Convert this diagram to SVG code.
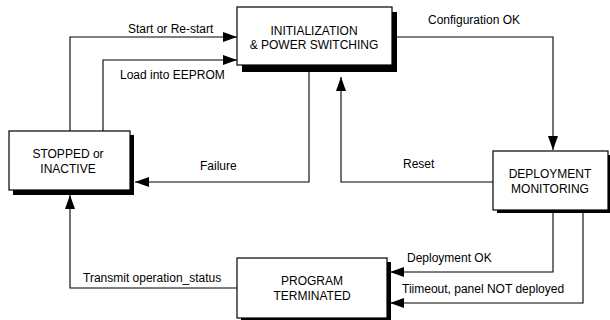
<svg xmlns="http://www.w3.org/2000/svg" width="610" height="320" viewBox="0 0 610 320">
<defs>
<marker id="arr" markerUnits="userSpaceOnUse" markerWidth="14" markerHeight="10" refX="14" refY="5" orient="auto">
<path d="M0,0 L14,5 L0,10 z" fill="#000"/>
</marker>
</defs>
<style>
text{font-family:"Liberation Sans",Arial,sans-serif;font-size:12px;fill:#000}
.box{fill:#fff;stroke:#000;stroke-width:1.2}
.sh{fill:#000}
.c{fill:none;stroke:#000;stroke-width:1.1}
.m{text-anchor:middle}
</style>
<rect width="610" height="320" fill="#fff"/>
<g id="connectors">
<polyline class="c" points="70,131 70,37 237,37" marker-end="url(#arr)"/>
<polyline class="c" points="103,131 103,60 237,60" marker-end="url(#arr)"/>
<polyline class="c" points="397,37 553,37 553,150" marker-end="url(#arr)"/>
<polyline class="c" points="309,72 309,182 135,182" marker-end="url(#arr)"/>
<polyline class="c" points="493,182 341,182 341,77" marker-end="url(#arr)"/>
<polyline class="c" points="553,213 553,272 390,272" marker-end="url(#arr)"/>
<polyline class="c" points="583,213 583,303 390,303" marker-end="url(#arr)"/>
<polyline class="c" points="237,288 70,288 70,195" marker-end="url(#arr)"/>
<text x="128" y="33">Start or Re-start</text>
<text x="120" y="79">Load into EEPROM</text>
<text x="428" y="24">Configuration OK</text>
<text x="200" y="170">Failure</text>
<text x="403" y="168">Reset</text>
<text x="407" y="262">Deployment OK</text>
<text x="402" y="293">Tiimeout, panel NOT deployed</text>
<text x="83" y="282">Transmit operation_status</text>
</g>
<g id="init">
<rect class="sh" x="242" y="12" width="155" height="60"/>
<rect class="box" x="237" y="7" width="155" height="58"/>
<text class="m" x="314" y="35">INITIALIZATION</text>
<text class="m" x="314" y="49">&amp; POWER SWITCHING</text>
</g>
<g id="stopped">
<rect class="sh" x="13" y="135" width="121" height="60"/>
<rect class="box" x="9" y="131" width="121" height="59"/>
<text class="m" x="68" y="158">STOPPED or</text>
<text class="m" x="68" y="173">INACTIVE</text>
</g>
<g id="deployment">
<rect class="sh" x="497" y="155" width="113" height="58"/>
<rect class="box" x="493" y="151" width="115" height="59"/>
<text class="m" x="550" y="178">DEPLOYMENT</text>
<text class="m" x="550" y="193">MONITORING</text>
</g>
<g id="program">
<rect class="sh" x="241" y="262" width="150" height="58"/>
<rect class="box" x="237" y="258" width="150" height="60"/>
<text class="m" x="312" y="285">PROGRAM</text>
<text class="m" x="312" y="300">TERMINATED</text>
</g>
</svg>
